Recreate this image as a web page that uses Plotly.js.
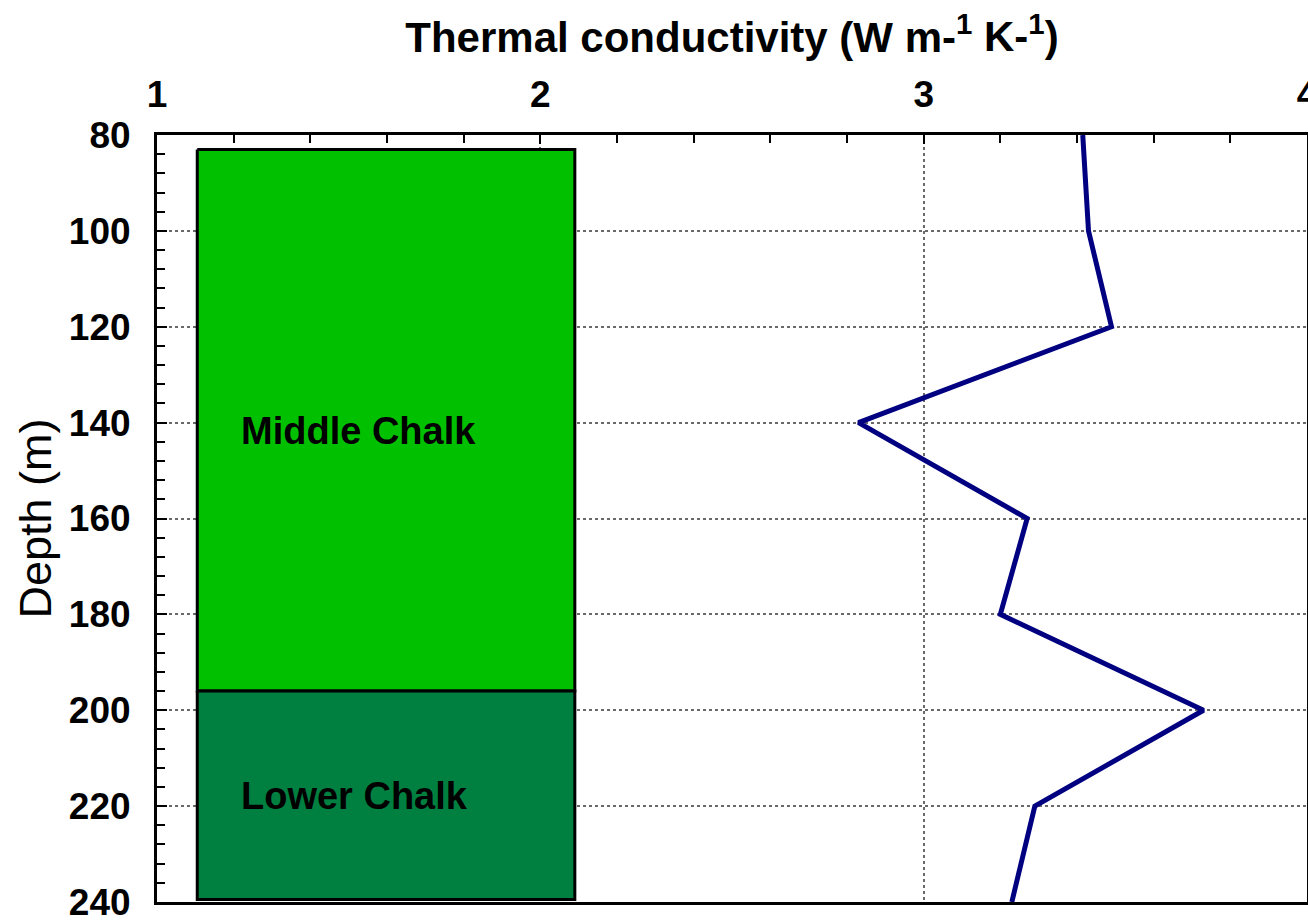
<!DOCTYPE html>
<html>
<head>
<meta charset="utf-8">
<script src="https://cdn.plot.ly/plotly-3.0.1.min.js"></script>
<style>html,body{margin:0;padding:0;background:#fff;}#chart{width:1308px;height:920px;}</style>
</head>
<body>
<div id="chart"></div>
<script>
// Measured profile
var depth = [80, 100, 120, 140, 160, 180, 200, 220, 240];
var conductivity = [3.415, 3.43, 3.49, 2.83, 3.27, 3.20, 3.73, 3.29, 3.23];

// Stratigraphic units
var unitNames = ["Middle Chalk", "Lower Chalk"];
var unitTop = [83, 196];
var unitBottom = [196, 239.5];
var unitLeft = [1.105, 1.105];
var unitRight = [2.09, 2.09];
var unitColors = ["#00c000", "#008040"];
var labelX = [1.215, 1.215];
var labelY = [141.8, 217.8];

var xTickVals = [1, 2, 3, 4];
var xTickText = ["1", "2", "3", "4"];
var yTickVals = [80, 100, 120, 140, 160, 180, 200, 220, 240];

var traces = [];
for (var i = 0; i < unitNames.length; i++) {
  traces.push({
    type: "scatter", mode: "lines",
    x: [unitLeft[i], unitRight[i], unitRight[i], unitLeft[i], unitLeft[i]],
    y: [unitTop[i], unitTop[i], unitBottom[i], unitBottom[i], unitTop[i]],
    fill: "toself", fillcolor: unitColors[i],
    line: {color: "#000000", width: 3},
    hoverinfo: "skip", showlegend: false
  });
}
traces.push({
  type: "scatter", mode: "lines",
  x: conductivity, y: depth,
  line: {color: "#000080", width: 5},
  showlegend: false
});

var annotations = unitNames.map(function (n, i) {
  return {x: labelX[i], y: labelY[i], xref: "x", yref: "y", text: n, showarrow: false,
    xanchor: "left", yanchor: "middle",
    font: {family: "Liberation Sans, Arial, sans-serif", size: 38, weight: "bold", color: "#000"}};
});

var layout = {
  width: 1308, height: 920,
  margin: {l: 157, r: 1, t: 135, b: 18},
  paper_bgcolor: "#fff", plot_bgcolor: "#fff",
  font: {family: "Liberation Sans, Arial, sans-serif", color: "#000"},
  title: {text: "Thermal conductivity (W m-<sup>1</sup> K-<sup>1</sup>)",
    x: 0.5, xref: "paper", y: 0.96, yanchor: "middle",
    font: {size: 42, weight: "bold", color: "#000"}},
  xaxis: {
    side: "top", range: [1, 4], tickvals: xTickVals, ticktext: xTickText,
    ticks: "inside", ticklen: 9, tickwidth: 2, tickcolor: "#000",
    showline: true, linewidth: 3, linecolor: "#000", mirror: true,
    showgrid: true, gridcolor: "#6a6a6a", griddash: "dot", gridwidth: 2,
    zeroline: false, ticklabelstandoff: 10, ticklabeloverflow: "allow",
    tickfont: {size: 37, weight: "bold", color: "#000"},
    minor: {dtick: 0.2, ticks: "inside", ticklen: 8, tickwidth: 2, tickcolor: "#000", showgrid: false}
  },
  yaxis: {
    range: [240, 80], tickvals: yTickVals,
    ticks: "inside", ticklen: 10, tickwidth: 2, tickcolor: "#000",
    showline: true, linewidth: 3, linecolor: "#000", mirror: true,
    showgrid: true, gridcolor: "#6a6a6a", griddash: "dot", gridwidth: 2,
    zeroline: false, ticklabelstandoff: 16, ticklabeloverflow: "allow",
    tickfont: {size: 37, weight: "bold", color: "#000"},
    minor: {dtick: 4, ticks: "inside", ticklen: 8, tickwidth: 2, tickcolor: "#000", showgrid: false},
    title: {text: "Depth (m)", standoff: 4, font: {size: 45, color: "#000"}}
  },
  annotations: annotations
};

Plotly.newPlot("chart", traces, layout, {staticPlot: true, displayModeBar: false});
</script>
</body>
</html>
